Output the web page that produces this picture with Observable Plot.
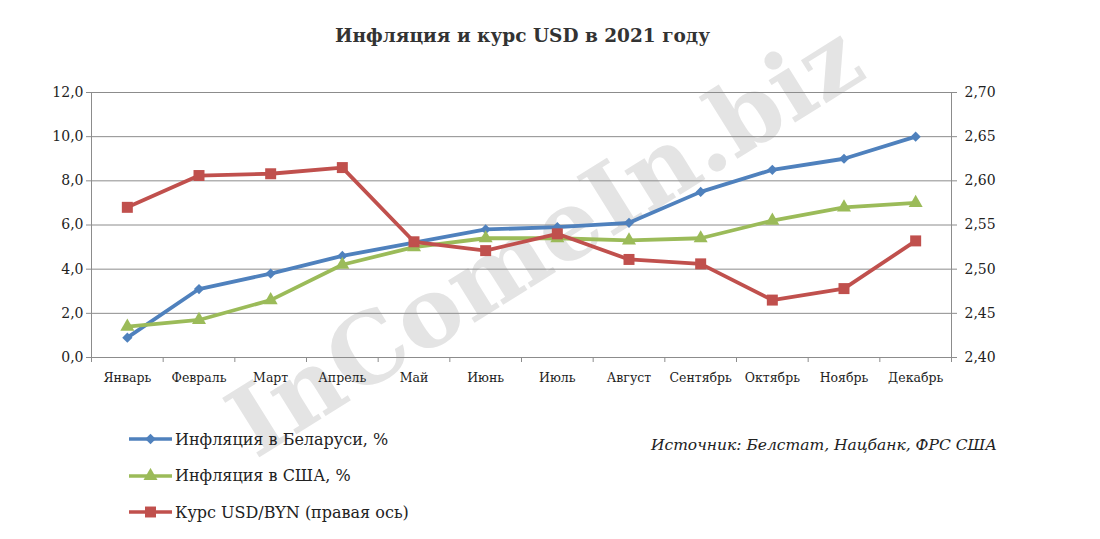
<!DOCTYPE html>
<html>
<head>
<meta charset="utf-8">
<script src="https://cdn.jsdelivr.net/npm/d3@7"></script>
<script src="https://cdn.jsdelivr.net/npm/@observablehq/plot@0.6"></script>
<style>
  html, body { margin: 0; padding: 0; background: #fff; }
  body { width: 1100px; height: 539px; position: relative; overflow: hidden; font-family: "DejaVu Serif", serif; }
  #title { position: absolute; top: 25px; left: 0; width: 1045px; text-align: center; font-weight: bold; font-size: 18.5px; color: #333; }
  #wm { position: absolute; left: 545px; top: 240px; transform: translate(-50%, -50%) rotate(-32deg); font-family: "DejaVu Serif", serif; font-weight: bold; font-size: 96px; line-height: 1; color: #e4e4e4; white-space: nowrap; z-index: 0; }
  #chart { position: absolute; top: 75px; left: 0; z-index: 1; }
  #legend { position: absolute; left: 128px; top: 421px; z-index: 1; }
  .row { display: flex; align-items: center; height: 36.5px; font-size: 16px; color: #222; }
  .row svg { margin-right: 2px; }
  #source { position: absolute; right: 103px; top: 436px; font-style: italic; font-size: 15.5px; color: #222; z-index: 1; }
</style>
</head>
<body>
<div id="wm">InComeIn.biz</div>
<div id="title">Инфляция и курс USD в 2021 году</div>
<div id="chart"></div>
<div id="legend"></div>
<div id="source">Источник: Белстат, Нацбанк, ФРС США</div>
<script>
const months = ["Январь","Февраль","Март","Апрель","Май","Июнь","Июль","Август","Сентябрь","Октябрь","Ноябрь","Декабрь"];
const inflBY = [0.9, 3.1, 3.8, 4.6, 5.2, 5.8, 5.9, 6.1, 7.5, 8.5, 9.0, 10.0];
const inflUS = [1.4, 1.7, 2.6, 4.2, 5.0, 5.4, 5.4, 5.3, 5.4, 6.2, 6.8, 7.0];
const usdByn = [2.570, 2.606, 2.608, 2.615, 2.531, 2.521, 2.540, 2.511, 2.506, 2.465, 2.478, 2.532];
const leftTicks = [0, 2, 4, 6, 8, 10, 12];
const rightDomain = [2.40, 2.70];
const seriesNames = ["Инфляция в Беларуси, %", "Инфляция в США, %", "Курс USD/BYN  (правая ось)"];
const colors = ["#4F81BD", "#9BBB59", "#C0504D"];
const symbols = ["diamond2", "triangle", "square"];

const leftMax = leftTicks[leftTicks.length - 1];
const toLeft = v => (v - rightDomain[0]) / (rightDomain[1] - rightDomain[0]) * leftMax;
const fromLeft = d => rightDomain[0] + d / leftMax * (rightDomain[1] - rightDomain[0]);
const fmt = (v, n) => v.toFixed(n).replace(".", ",");

const rows = [];
inflBY.forEach((v, i) => rows.push({s: 0, i, y: v}));
inflUS.forEach((v, i) => rows.push({s: 1, i, y: v}));
usdByn.forEach((v, i) => rows.push({s: 2, i, y: toLeft(v)}));

const idx = d3.range(months.length);
const bounds = d3.range(months.length + 1).map(i => i - 0.5);

const marks = [
  Plot.ruleY(leftTicks, {stroke: "#8c8c8c", strokeWidth: 1}),
  Plot.frame({stroke: "#8c8c8c"}),
  Plot.axisY({ticks: leftTicks, tickFormat: d => fmt(d, 1), tickSize: 5, tickPadding: 3, stroke: "#8c8c8c", fontSize: 14, color: "#222", label: null}),
  Plot.axisY({anchor: "right", ticks: leftTicks, tickFormat: d => fmt(fromLeft(d), 2), tickSize: 5, tickPadding: 8, stroke: "#8c8c8c", fontSize: 14, label: null}),
  Plot.axisX({ticks: idx, tickFormat: i => months[i], tickSize: 0, tickPadding: 16, fontSize: 12.5, label: null}),
  Plot.axisX({ticks: bounds, tickFormat: () => "", tickSize: 5, stroke: "#8c8c8c", label: null})
];
for (const s of [0, 1, 2]) {
  const data = rows.filter(d => d.s === s);
  marks.push(Plot.line(data, {x: "i", y: "y", stroke: colors[s], strokeWidth: 3.8}));
}
for (const s of [0, 1, 2]) {
  const data = rows.filter(d => d.s === s);
  const r = s === 2 ? 6.2 : (s === 1 ? 5.2 : 4.6);
  marks.push(Plot.dot(data, {x: "i", y: "y", fill: colors[s], symbol: () => symbols[s], r, stroke: "none"}));
}

const chart = Plot.plot({
  width: 1100,
  height: 320,
  marginLeft: 91,
  marginRight: 149,
  marginTop: 17,
  marginBottom: 38,
  style: {background: "transparent", fontFamily: "DejaVu Serif, serif", color: "#222"},
  x: {type: "linear", domain: [bounds[0], bounds[bounds.length - 1]]},
  y: {domain: [0, leftMax]},
  symbol: {type: "identity"},
  marks
});
document.getElementById("chart").appendChild(chart);

// legend
const legend = document.getElementById("legend");
seriesNames.forEach((name, s) => {
  const row = document.createElement("div");
  row.className = "row";
  const sym = d3.symbol().type(s === 0 ? d3.symbolDiamond2 : s === 1 ? d3.symbolTriangle : d3.symbolSquare)
    .size(s === 2 ? 120 : s === 1 ? 85 : 70)();
  row.innerHTML = `<svg width="45" height="16"><line x1="1" x2="44" y1="8" y2="8" stroke="${colors[s]}" stroke-width="3.5"/><path d="${sym}" transform="translate(22.5,8)" fill="${colors[s]}"/></svg><span>${name}</span>`;
  legend.appendChild(row);
});
</script>
</body>
</html>
